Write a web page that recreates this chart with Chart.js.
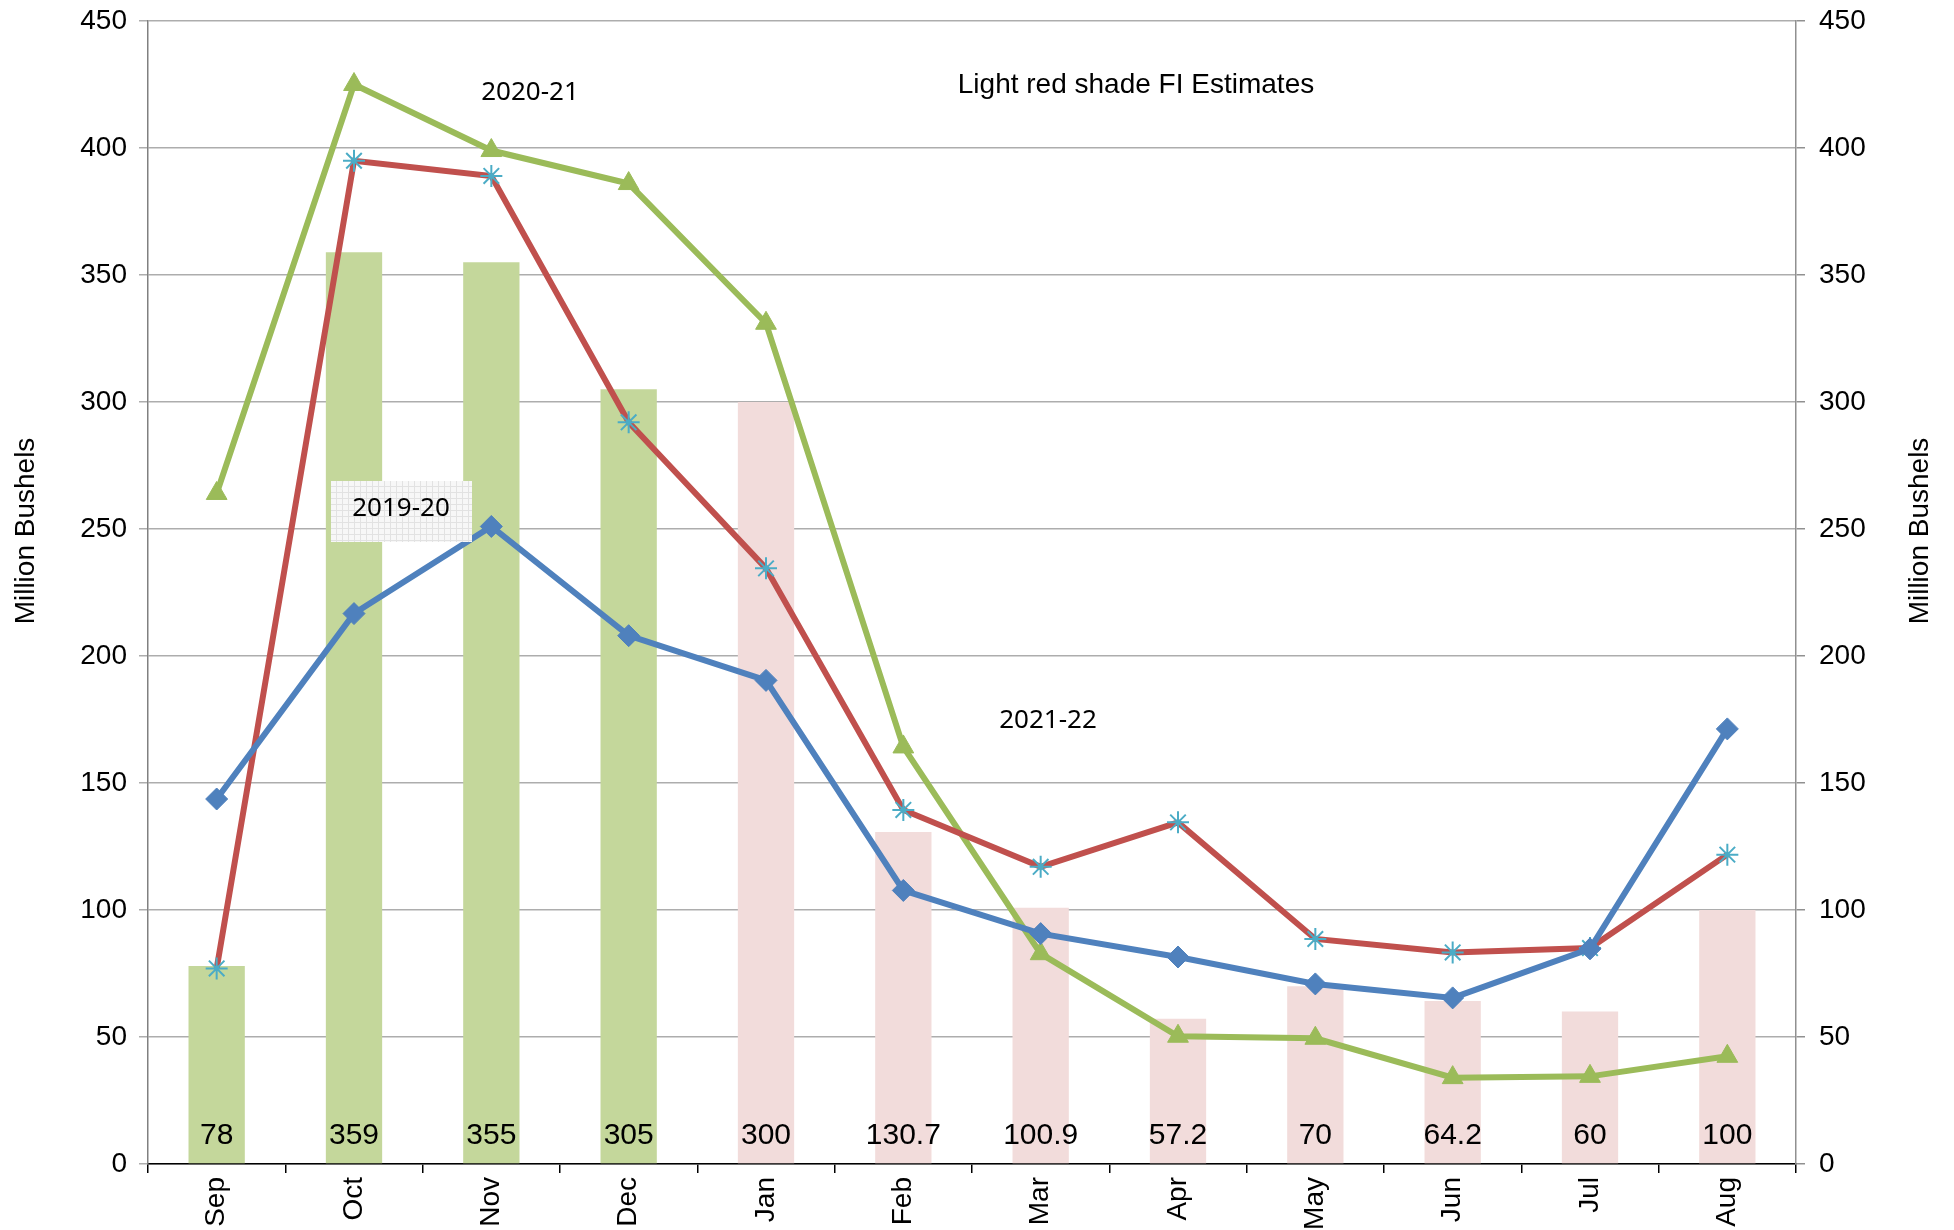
<!DOCTYPE html>
<html>
<head>
<meta charset="utf-8">
<script src="https://cdn.jsdelivr.net/npm/chart.js@4.4.1/dist/chart.umd.min.js"></script>
<style>
  html, body { margin: 0; padding: 0; background: #fff; }
  #wrap { width: 1954px; height: 1230px; position: relative; }
</style>
</head>
<body>
<div id="wrap"><canvas id="chart"></canvas></div>
<script>
// === DATA ===
const months = ['Sep', 'Oct', 'Nov', 'Dec', 'Jan', 'Feb', 'Mar', 'Apr', 'May', 'Jun', 'Jul', 'Aug'];
const barValues = [78, 359, 355, 305, 300, 130.7, 100.9, 57.2, 70, 64.2, 60, 100];
const barLabels = ['78', '359', '355', '305', '300', '130.7', '100.9', '57.2', '70', '64.2', '60', '100'];
const actualCount = 4; // first bars green, the rest light red (FI estimates)
const blueLine = [143.7, 216.7, 251, 208, 190.4, 107.7, 90.7, 81.5, 70.9, 65.4, 84.7, 171.3];
const redLine = [77, 395, 389, 292, 234.5, 139.4, 117, 134.5, 88.6, 83.3, 85, 121.8];
const greenLine = [264, 425, 399, 386, 331, 164.2, 82.8, 50.3, 49.5, 34, 34.5, 42.4];
const yTicks = [0, 50, 100, 150, 200, 250, 300, 350, 400, 450];

const barColors = barValues.map((v, i) => i < actualCount ? '#C4D79B' : '#F2DCDB');

// hatched pattern for the 2019-20 label box
function makePattern(ctx) {
    const c = document.createElement('canvas');
    c.width = 6; c.height = 6;
    const p = c.getContext('2d');
    p.fillStyle = '#f7f7f7';
    p.fillRect(0, 0, 6, 6);
    p.fillStyle = '#e2e2e2';
    p.fillRect(0, 0, 6, 1);
    p.fillRect(0, 0, 1, 6);
    return ctx.createPattern(c, 'repeat');
}

// bar value labels, axis titles + text annotations
const annotations = {
    id: 'annotations',
    afterDatasetsDraw(chart) {
        const ctx = chart.ctx;
        const y0 = chart.scales.y.getPixelForValue(0);
        const barMeta = chart.getDatasetMeta(3);
        ctx.save();
        ctx.fillStyle = '#000';
        ctx.font = '30px "Liberation Sans", Arial, sans-serif';
        ctx.textAlign = 'center';
        ctx.textBaseline = 'middle';
        barMeta.data.forEach((bar, i) => {
            ctx.fillText(barLabels[i], bar.x, y0 - 28);
        });

        // 2019-20 box
        ctx.fillStyle = makePattern(ctx);
        ctx.fillRect(331, 481, 141, 61);

        ctx.fillStyle = '#000';
        ctx.font = '26px "Noto Sans", "Open Sans", sans-serif';
        ctx.fillText('2020-21', 530, 93);
        ctx.fillText('2019-20', 401, 509);
        ctx.fillText('2021-22', 1048, 721);
        ctx.font = '28px "Liberation Sans", Arial, sans-serif';
        ctx.fillText('Light red shade FI Estimates', 1136, 85);

        // axis titles, both reading bottom to top
        ctx.font = '28px "Liberation Sans", Arial, sans-serif';
        [26, 1920].forEach(x => {
            ctx.save();
            ctx.translate(x, 531);
            ctx.rotate(-Math.PI / 2);
            ctx.fillText('Million Bushels', 0, 0);
            ctx.restore();
        });
        ctx.restore();
    }
};

const axisFont = { family: '"Liberation Sans", Arial, sans-serif', size: 28 };

new Chart(document.getElementById('chart').getContext('2d'), {
    data: {
        labels: months,
        datasets: [
            {
                type: 'line',
                label: '2019-20',
                data: blueLine,
                borderColor: '#4F81BD',
                backgroundColor: '#4F81BD',
                borderWidth: 6,
                pointStyle: 'rectRot',
                pointRadius: 11,
                pointBorderWidth: 1,
                order: 1
            },
            {
                type: 'line',
                label: 'red',
                data: redLine,
                borderColor: '#C0504D',
                borderWidth: 6,
                pointStyle: 'star',
                pointRadius: 11,
                pointBorderColor: '#4BACC6',
                pointBackgroundColor: '#4BACC6',
                pointBorderWidth: 2,
                order: 2
            },
            {
                type: 'line',
                label: '2020-21',
                data: greenLine,
                borderColor: '#9BBB59',
                backgroundColor: '#9BBB59',
                borderWidth: 6,
                pointStyle: 'triangle',
                pointRadius: 12,
                pointBorderWidth: 1,
                order: 3
            },
            {
                type: 'bar',
                label: 'bars',
                data: barValues,
                backgroundColor: barColors,
                borderWidth: 0,
                barPercentage: 0.41,
                categoryPercentage: 1,
                order: 10
            }
        ]
    },
    options: {
        responsive: true,
        maintainAspectRatio: false,
        animation: false,
        layout: { padding: { top: 21, right: 0, bottom: 0, left: 0 } },
        plugins: {
            legend: { display: false },
            tooltip: { enabled: false }
        },
        scales: {
            x: {
                offset: true,
                grid: {
                    offset: true,
                    drawOnChartArea: false,
                    drawTicks: true,
                    tickLength: 9,
                    color: '#000',
                    lineWidth: 1.5
                },
                border: { color: '#000', width: 1.5 },
                ticks: {
                    color: '#000',
                    font: axisFont,
                    minRotation: 90,
                    maxRotation: 90,
                    padding: 4
                },
                afterFit(scale) {
                    scale.height = 66;
                    scale.paddingLeft = 0;
                    scale.paddingRight = 0;
                }
            },
            y: {
                position: 'left',
                min: 0,
                max: 450,
                afterBuildTicks(scale) { scale.ticks = yTicks.map(v => ({ value: v })); },
                grid: {
                    color: '#ADADAD',
                    lineWidth: 1.5,
                    tickLength: 9
                },
                border: { color: '#808080', width: 1.5 },
                ticks: { color: '#000', font: axisFont, padding: 12 },
                afterFit(scale) {
                    scale.width = 148;
                    scale.paddingTop = 0;
                    scale.paddingBottom = 0;
                }
            },
            y2: {
                position: 'right',
                min: 0,
                max: 450,
                afterBuildTicks(scale) { scale.ticks = yTicks.map(v => ({ value: v })); },
                grid: {
                    drawOnChartArea: false,
                    color: '#909090',
                    lineWidth: 1.5,
                    tickLength: 9
                },
                border: { color: '#909090', width: 1.5 },
                ticks: { color: '#000', font: axisFont, padding: 14 },
                afterFit(scale) {
                    scale.width = 158;
                    scale.paddingTop = 0;
                    scale.paddingBottom = 0;
                }
            }
        }
    },
    plugins: [annotations]
});
</script>
</body>
</html>
